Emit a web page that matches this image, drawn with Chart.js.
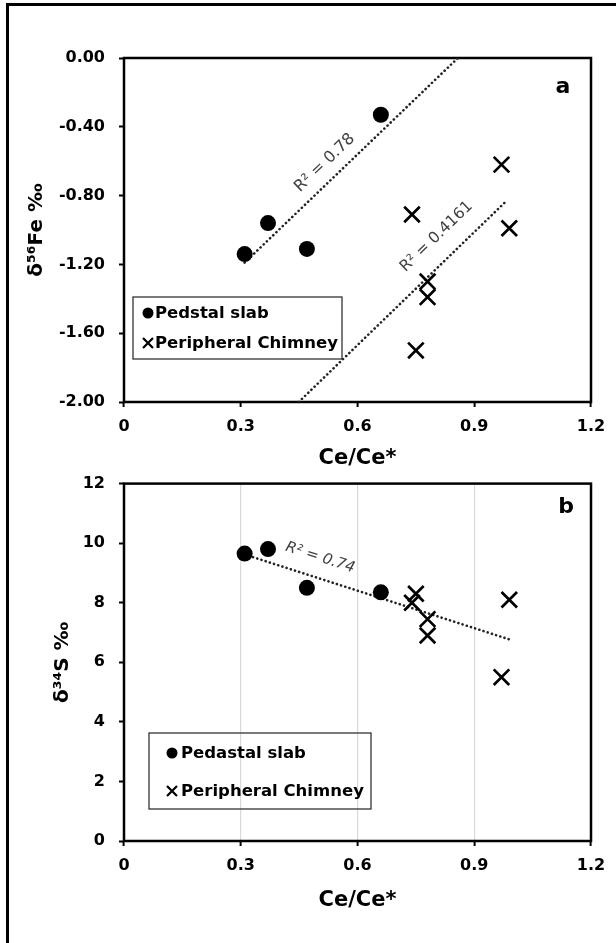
<!DOCTYPE html>
<html>
<head>
<meta charset="utf-8">
<script src="https://cdn.jsdelivr.net/npm/chart.js@4.4.1/dist/chart.umd.min.js"></script>
<style>
html, body { margin: 0; padding: 0; background: #fff; }
#wrap { position: relative; width: 616px; height: 943px; overflow: hidden; background: #fff; }
#frame { position: absolute; left: 6px; top: 3px; width: 640px; height: 980px; border-top: 3px solid #000; border-left: 3px solid #000; }
canvas { position: absolute; left: 0; }
#ca { top: 0; }
#cb { top: 460px; }
</style>
</head>
<body>
<div id="wrap">
  <div id="frame"></div>
  <canvas id="ca" width="616" height="471"></canvas>
  <canvas id="cb" width="616" height="483"></canvas>
</div>
<script>
// values
const xTickVals = [0, 0.3, 0.6, 0.9, 1.2];
const xTickLabels = ['0', '0.3', '0.6', '0.9', '1.2'];
const yTickValsA = [-2, -1.6, -1.2, -0.8, -0.4, 0];
const yTickLabelsA = ['-2.00', '-1.60', '-1.20', '-0.80', '-0.40', '0.00'];
const yTickValsB = [0, 2, 4, 6, 8, 10, 12];
const yTickLabelsB = ['0', '2', '4', '6', '8', '10', '12'];

// panel a : d56Fe
const ceSlabA = [0.31, 0.37, 0.47, 0.66];
const feSlab = [-1.14, -0.96, -1.11, -0.33];
const ceChimA = [0.74, 0.75, 0.78, 0.78, 0.97, 0.99];
const feChim = [-0.91, -1.70, -1.30, -1.39, -0.62, -0.99];
const trendSlabAx = [0.31, 0.858];
const trendSlabAy = [-1.19, 0];
const trendChimAx = [0.449, 0.985];
const trendChimAy = [-2.0, -0.826];

// panel b : d34S
const ceSlabB = [0.31, 0.37, 0.47, 0.66];
const sSlab = [9.65, 9.8, 8.5, 8.35];
const ceChimB = [0.75, 0.74, 0.78, 0.78, 0.99, 0.97];
const sChim = [8.3, 8.0, 7.45, 6.9, 8.1, 5.5];
const trendBx = [0.31, 0.99];
const trendBy = [9.62, 6.77];

const F = 'DejaVu Sans';
const pts = (xs, ys) => xs.map((x, i) => ({x: x, y: ys[i]}));

function markers(label, xs, ys, style) {
  const dot = style === 'circle';
  return {
    label: label, data: pts(xs, ys), pointStyle: style,
    pointRadius: dot ? 8 : 11, pointHoverRadius: dot ? 8 : 11,
    backgroundColor: '#000', borderColor: '#000', pointBorderWidth: dot ? 0 : 2.7
  };
}
function trend(xs, ys) {
  return {
    data: pts(xs, ys), showLine: true, pointRadius: 0, borderColor: '#222',
    borderWidth: 2.6, borderDash: [0.1, 4.3], borderCapStyle: 'round', trend: true
  };
}

const framePlugin = {
  id: 'frame',
  beforeDatasetsDraw(chart) {
    const a = chart.chartArea, ctx = chart.ctx;
    ctx.save();
    ctx.strokeStyle = '#000';
    ctx.lineWidth = 2.5;
    ctx.strokeRect(a.left, a.top, a.right - a.left, a.bottom - a.top);
    ctx.restore();
  }
};

const overlayPlugin = {
  id: 'overlay',
  afterDraw(chart, args, o) {
    const ctx = chart.ctx, sx = chart.scales.x, sy = chart.scales.y;
    ctx.save();
    // panel letter
    ctx.fillStyle = '#000';
    ctx.font = 'bold 22px ' + F;
    ctx.textAlign = 'center';
    ctx.textBaseline = 'middle';
    ctx.fillText(o.letter.text, o.letter.x, o.letter.y);
    // R2 notes along the trend lines
    o.notes.forEach(n => {
      const m = chart.getDatasetMeta(n.line).data;
      const ang = Math.atan2(m[1].y - m[0].y, m[1].x - m[0].x);
      ctx.save();
      ctx.translate(sx.getPixelForValue(n.at[0]), sy.getPixelForValue(n.at[1]));
      ctx.rotate(ang);
      ctx.font = (n.italic ? 'italic ' : '') + n.size + 'px ' + F;
      ctx.fillStyle = '#404040';
      ctx.fillText(n.text, 0, 0);
      ctx.restore();
    });
    // legend box
    const L = o.legend;
    ctx.strokeStyle = '#333';
    ctx.lineWidth = 1.3;
    ctx.strokeRect(L.box[0], L.box[1], L.box[2], L.box[3]);
    ctx.font = 'bold 16.5px ' + F;
    ctx.textAlign = 'left';
    const items = chart.data.datasets.filter(d => !d.trend);
    items.forEach((d, i) => {
      const y = L.rows[i], x = L.mx;
      ctx.fillStyle = '#000';
      ctx.strokeStyle = '#000';
      if (d.pointStyle === 'circle') {
        ctx.beginPath();
        ctx.arc(x, y, 5.5, 0, Math.PI * 2);
        ctx.fill();
      } else {
        ctx.lineWidth = 2.2;
        ctx.beginPath();
        ctx.moveTo(x - 5, y - 5); ctx.lineTo(x + 5, y + 5);
        ctx.moveTo(x + 5, y - 5); ctx.lineTo(x - 5, y + 5);
        ctx.stroke();
      }
      ctx.fillText(d.label, L.tx, y + 1);
    });
    ctx.restore();
  }
};

function build(id, cfg) {
  const tickFont = {family: F, size: 16, weight: 'bold'};
  return new Chart(document.getElementById(id), {
    type: 'scatter',
    data: {datasets: cfg.datasets},
    options: {
      responsive: false,
      animation: false,
      devicePixelRatio: 1,
      layout: {padding: cfg.padding},
      plugins: {legend: {display: false}, tooltip: {enabled: false}, overlay: cfg.overlay},
      scales: {
        x: {
          type: 'linear', min: 0, max: 1.2,
          afterFit: s => { s.height = cfg.xH; },
          afterBuildTicks: s => { s.ticks = xTickVals.map(v => ({value: v})); },
          ticks: {callback: (v, i) => xTickLabels[i], font: tickFont, color: '#000', padding: 10, maxRotation: 0, autoSkip: false},
          grid: {display: true, drawOnChartArea: cfg.xGrid, drawTicks: true, tickLength: 5, color: '#d9d9d9', lineWidth: 1.2, tickColor: '#000', tickWidth: 2},
          border: {display: false},
          title: {display: true, text: 'Ce/Ce*', font: {family: F, size: 21, weight: 'bold'}, color: '#000', padding: 0}
        },
        y: {
          type: 'linear', min: cfg.yMin, max: cfg.yMax,
          afterFit: s => { s.width = cfg.yW; },
          afterBuildTicks: s => { s.ticks = cfg.yVals.map(v => ({value: v})); },
          ticks: {callback: (v, i) => cfg.yLabels[i], font: tickFont, color: '#000', padding: 14, autoSkip: false},
          grid: {display: true, drawOnChartArea: false, drawTicks: true, tickLength: 5, tickColor: '#000', tickWidth: 2},
          border: {display: false},
          title: {display: true, text: cfg.yTitle, font: {family: F, size: 20, weight: 'bold'}, color: '#000', padding: 0}
        }
      }
    },
    plugins: [framePlugin, overlayPlugin]
  });
}

build('ca', {
  datasets: [
    markers('Pedstal slab', ceSlabA, feSlab, 'circle'),
    markers('Peripheral Chimney', ceChimA, feChim, 'crossRot'),
    trend(trendSlabAx, trendSlabAy),
    trend(trendChimAx, trendChimAy)
  ],
  padding: {top: 58, right: 25, bottom: 0, left: 25},
  xH: 69, yW: 99, xGrid: false,
  yMin: -2, yMax: 0, yVals: yTickValsA, yLabels: yTickLabelsA,
  yTitle: 'δ⁵⁶Fe ‰',
  overlay: {
    letter: {text: 'a', x: 563, y: 87},
    notes: [
      {text: 'R² = 0.78', at: [0.516, -0.61], line: 2, size: 16},
      {text: 'R² = 0.4161', at: [0.803, -1.039], line: 3, size: 15.5}
    ],
    legend: {box: [133, 297, 209, 62], rows: [313, 343], mx: 148, tx: 155}
  }
});

build('cb', {
  datasets: [
    markers('Pedastal slab', ceSlabB, sSlab, 'circle'),
    markers('Peripheral Chimney', ceChimB, sChim, 'crossRot'),
    trend(trendBx, trendBy)
  ],
  padding: {top: 20, right: 25, bottom: 30, left: 51},
  xH: 72, yW: 73, xGrid: true,
  yMin: 0, yMax: 12, yVals: yTickValsB, yLabels: yTickLabelsB,
  yTitle: 'δ³⁴S ‰',
  overlay: {
    letter: {text: 'b', x: 566, y: 47},
    notes: [
      {text: 'R² = 0.74', at: [0.504, 9.51], line: 2, size: 15, italic: true}
    ],
    legend: {box: [149, 273, 222, 76], rows: [293, 331], mx: 172, tx: 181}
  }
});
</script>
</body>
</html>
